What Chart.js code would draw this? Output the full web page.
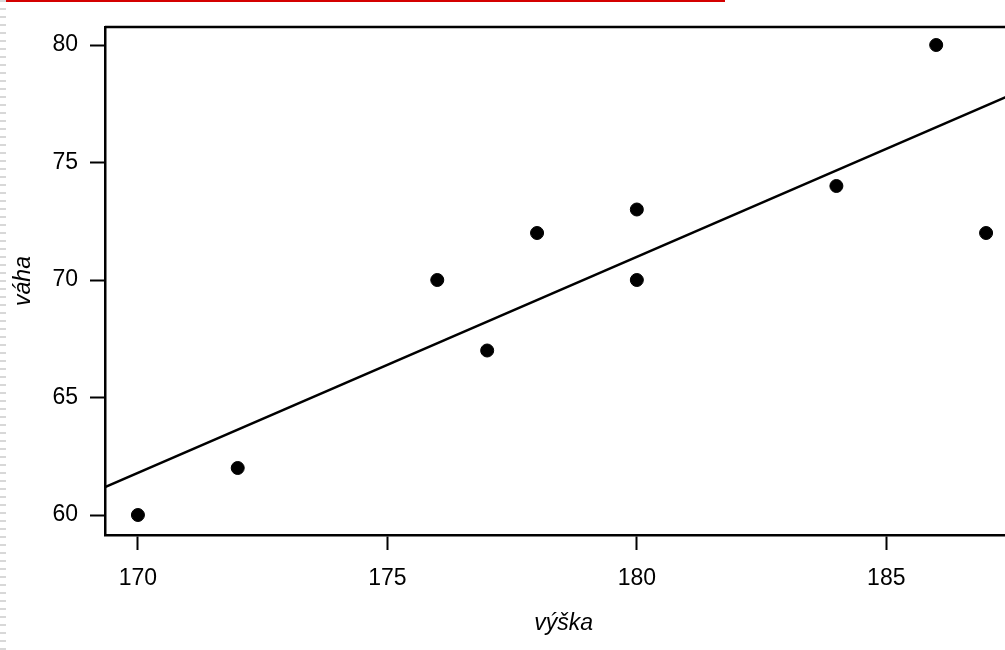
<!DOCTYPE html>
<html>
<head>
<meta charset="utf-8">
<script src="https://cdn.jsdelivr.net/npm/chart.js@4/dist/chart.umd.min.js"></script>
<style>
  html, body { margin: 0; padding: 0; background: #fff; overflow: hidden; }
  #wrap { position: relative; width: 1030px; height: 650px; }
  #redline { position: absolute; left: 0; top: 0; width: 725px; height: 2px; background: #d40000; }
  #edge { position: absolute; left: 0; top: 0; width: 6px; height: 650px;
          background: repeating-linear-gradient(#d8d8d8 0 2px, transparent 2px 8px); }
</style>
</head>
<body>
<div id="wrap">
  <canvas id="chart" width="1030" height="650"></canvas>
  <div id="redline"></div>
  <div id="edge"></div>
</div>
<script>
// naměřené hodnoty (výška, váha)
const heights = [170, 172, 176, 177, 178, 180, 180, 184, 186, 187];
const weights = [60, 62, 70, 67, 72, 73, 70, 74, 80, 72];

// regresní přímka - koncové body
const lineX = [169.34, 187.73];
const lineY = [61.19, 78.09];

const xTicks = [170, 175, 180, 185];
const yTicks = [60, 65, 70, 75, 80];

// horní okraj rámečku
const frameTop = {
    id: 'frameTop',
    afterDraw(chart) {
        const a = chart.chartArea;
        const ctx = chart.ctx;
        ctx.save();
        ctx.strokeStyle = '#000';
        ctx.lineWidth = 2.5;
        ctx.beginPath();
        ctx.moveTo(a.left, a.top);
        ctx.lineTo(a.right, a.top);
        ctx.stroke();
        ctx.restore();
    }
};

const font = { family: '"Liberation Sans", Arial, sans-serif', size: 23 };
const titleFont = { family: '"Liberation Sans", Arial, sans-serif', size: 23, style: 'italic' };

new Chart(document.getElementById('chart'), {
    type: 'scatter',
    data: {
        datasets: [{
            data: heights.map((h, i) => ({ x: h, y: weights[i] })),
            backgroundColor: '#000',
            borderColor: '#000',
            pointRadius: 6.5,
            pointHoverRadius: 6.5
        }, {
            type: 'line',
            data: lineX.map((x, i) => ({ x: x, y: lineY[i] })),
            borderColor: '#000',
            borderWidth: 2.5,
            pointRadius: 0,
            fill: false
        }]
    },
    options: {
        responsive: false,
        animation: false,
        events: [],
        layout: { padding: { left: 0, top: 27, right: 7, bottom: 0 } },
        plugins: { legend: { display: false }, tooltip: { enabled: false } },
        scales: {
            x: {
                type: 'linear',
                min: 169.34,
                max: 187.73,
                afterBuildTicks: s => { s.ticks = xTicks.map(v => ({ value: v })); },
                afterFit: s => { s.height = 650 - 535; },
                border: { display: true, color: '#000', width: 2.5 },
                grid: { drawOnChartArea: false, drawTicks: true, tickLength: 15, tickColor: '#000', tickWidth: 2 },
                ticks: { color: '#000', font: font, padding: 15, maxRotation: 0 },
                title: { display: true, text: 'výška', color: '#000', font: titleFont, padding: { top: 0, bottom: 13 } }
            },
            y: {
                type: 'linear',
                min: 59.149,
                max: 80.766,
                afterBuildTicks: s => { s.ticks = yTicks.map(v => ({ value: v })); },
                afterFit: s => { s.width = 105; },
                border: { display: true, color: '#000', width: 2.5 },
                grid: { drawOnChartArea: false, drawTicks: true, tickLength: 15, tickColor: '#000', tickWidth: 2 },
                ticks: { color: '#000', font: font, padding: 12 },
                title: { display: true, text: 'váha', color: '#000', font: titleFont, padding: { top: 10, bottom: 0 } }
            }
        }
    },
    plugins: [frameTop]
});
</script>
</body>
</html>
